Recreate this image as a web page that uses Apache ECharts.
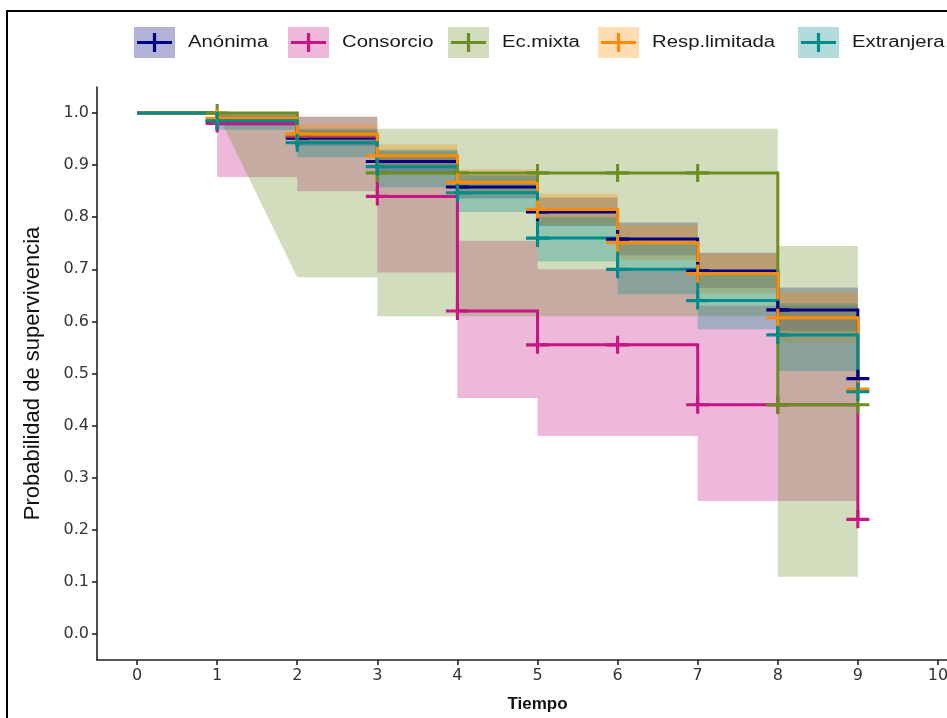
<!DOCTYPE html>
<html>
<head>
<meta charset="utf-8">
<script src="https://cdn.jsdelivr.net/npm/echarts@6/dist/echarts.min.js"></script>
<style>
  html, body { margin: 0; padding: 0; background: #ffffff; overflow: hidden; }
  #chart { width: 1000px; height: 718px; }
</style>
</head>
<body>
<div id="chart"></div>
<script>
// Kaplan-Meier survival by company type, with 95% confidence bands

const groups = ['Anónima', 'Consorcio', 'Ec.mixta', 'Resp.limitada', 'Extranjera'];
const lineColors = ['#000080', '#C71585', '#6B8E23', '#FF8C00', '#008B8B'];

const times = [0, 1, 2, 3, 4, 5, 6, 7, 8, 9];
const xTicks = [0, 1, 2, 3, 4, 5, 6, 7, 8, 9, 10];
const yTicks = [0, 0.1, 0.2, 0.3, 0.4, 0.5, 0.6, 0.7, 0.8, 0.9, 1.0];

// survival estimate from each time onwards
const survAnonima    = [1, 0.985, 0.952, 0.907, 0.858, 0.810, 0.758, 0.697, 0.622, 0.490];
const survConsorcio  = [1, 0.980, 0.955, 0.840, 0.620, 0.555, 0.555, 0.440, 0.440, 0.220];
const survEcMixta    = [1, 1.000, 0.958, 0.885, 0.885, 0.885, 0.885, 0.885, 0.440, 0.440];
const survResp       = [1, 0.990, 0.960, 0.918, 0.867, 0.815, 0.751, 0.692, 0.607, 0.470];
const survExtranjera = [1, 0.985, 0.943, 0.897, 0.847, 0.760, 0.700, 0.640, 0.574, 0.465];

// confidence limits on each interval [t, t+1); null = limit not available there
const lowerAnonima    = [1, 0.975, 0.937, 0.887, 0.836, 0.783, 0.727, 0.664, 0.582];
const upperAnonima    = [1, 0.995, 0.967, 0.927, 0.881, 0.838, 0.790, 0.732, 0.665];
const lowerConsorcio  = [1, 0.877, 0.850, 0.694, 0.453, 0.380, 0.380, 0.255, 0.255];
const upperConsorcio  = [1, 1.000, 0.993, 0.920, 0.755, 0.700, 0.700, 0.630, 0.630];
const lowerEcMixta    = [1, null, 0.685, 0.610, 0.610, 0.610, 0.610, 0.610, 0.110];
const upperEcMixta    = [1, 1.000, 0.993, 0.970, 0.970, 0.970, 0.970, 0.970, 0.745];
const lowerResp       = [1, 0.978, 0.942, 0.895, 0.842, 0.785, 0.718, 0.655, 0.560];
const upperResp       = [1, 1.000, 0.978, 0.940, 0.892, 0.845, 0.785, 0.730, 0.655];
const lowerExtranjera = [1, 0.968, 0.915, 0.857, 0.810, 0.715, 0.652, 0.585, 0.505];
const upperExtranjera = [1, 1.000, 0.970, 0.930, 0.880, 0.800, 0.750, 0.690, 0.635];

// censoring times
const censorAnonima    = [1, 2, 3, 4, 5, 6, 7, 8, 9];
const censorConsorcio  = [1, 2, 3, 4, 5, 6, 7, 8, 9];
const censorEcMixta    = [1, 2, 3, 4, 5, 6, 7, 8, 9];
const censorResp       = [1, 2, 3, 4, 5, 6, 7, 8, 9];
const censorExtranjera = [1, 2, 3, 4, 5, 6, 7, 8, 9];

const survList   = [survAnonima, survConsorcio, survEcMixta, survResp, survExtranjera];
const lowerList  = [lowerAnonima, lowerConsorcio, lowerEcMixta, lowerResp, lowerExtranjera];
const upperList  = [upperAnonima, upperConsorcio, upperEcMixta, upperResp, upperExtranjera];
const censorList = [censorAnonima, censorConsorcio, censorEcMixta, censorResp, censorExtranjera];

function alphaColor(hex, a) {
  const r = parseInt(hex.slice(1, 3), 16);
  const g = parseInt(hex.slice(3, 5), 16);
  const b = parseInt(hex.slice(5, 7), 16);
  return 'rgba(' + r + ',' + g + ',' + b + ',' + a + ')';
}

const crossPath = 'path://M-12,-1.6 L12,-1.6 L12,1.6 L-12,1.6 Z M-1.6,-9 L1.6,-9 L1.6,9 L-1.6,9 Z';

const series = [];

// confidence ribbons: one stepped polygon per group
groups.forEach(function (name, gi) {
  const lo = lowerList[gi];
  const hi = upperList[gi];
  series.push({
    type: 'custom',
    name: name + ' IC',
    coordinateSystem: 'cartesian2d',
    data: [[0, 0]],
    silent: true,
    z: 1,
    renderItem: function (params, api) {
      const pts = [];
      for (let i = 0; i < hi.length; i++) {
        pts.push(api.coord([times[i], hi[i]]));
        pts.push(api.coord([times[i + 1], hi[i]]));
      }
      for (let i = lo.length - 1; i >= 0; i--) {
        if (lo[i] === null) continue;
        pts.push(api.coord([times[i + 1], lo[i]]));
        pts.push(api.coord([times[i], lo[i]]));
      }
      return {
        type: 'polygon',
        shape: { points: pts },
        style: { fill: alphaColor(lineColors[gi], 0.3), stroke: null }
      };
    }
  });
});

// survival step curves
groups.forEach(function (name, gi) {
  series.push({
    type: 'line',
    name: name,
    step: 'end',
    showSymbol: false,
    silent: true,
    z: 2,
    lineStyle: { color: lineColors[gi], width: 3, join: 'miter' },
    data: times.map(function (t, i) { return [t, survList[gi][i]]; })
  });
});

// censoring marks
groups.forEach(function (name, gi) {
  series.push({
    type: 'scatter',
    name: name + ' censura',
    symbol: crossPath,
    symbolSize: [23, 18],
    silent: true,
    z: 3,
    itemStyle: { color: lineColors[gi], opacity: 1 },
    data: censorList[gi].map(function (t) { return [t, survList[gi][times.indexOf(t)]]; })
  });
});

// legend drawn as keys with a shaded square and a cross
const legendKeyX = [134, 288, 448, 598, 798];
const legendGraphics = [];
groups.forEach(function (name, gi) {
  const x0 = legendKeyX[gi];
  legendGraphics.push({
    type: 'rect',
    shape: { x: x0, y: 27, width: 41, height: 31 },
    style: { fill: alphaColor(lineColors[gi], 0.3) }
  });
  legendGraphics.push({
    type: 'line',
    shape: { x1: x0 + 3, y1: 42.5, x2: x0 + 38, y2: 42.5 },
    style: { stroke: lineColors[gi], lineWidth: 3.2 }
  });
  legendGraphics.push({
    type: 'line',
    shape: { x1: x0 + 20.5, y1: 33, x2: x0 + 20.5, y2: 52 },
    style: { stroke: lineColors[gi], lineWidth: 3.2 }
  });
  legendGraphics.push({
    type: 'text',
    x: x0 + 54,
    y: 43,
    scaleX: 1.27,
    style: {
      text: name,
      fill: '#1a1a1a',
      font: '16px "Liberation Sans", Arial, sans-serif',
      textVerticalAlign: 'middle',
      textAlign: 'left'
    }
  });
});

const option = {
  backgroundColor: '#ffffff',
  animation: false,
  grid: { left: 97, top: 87, width: 881, height: 575, containLabel: false },
  xAxis: {
    type: 'value',
    min: -0.5,
    max: 10.5,
    name: 'Tiempo',
    nameLocation: 'middle',
    nameGap: 36,
    nameTextStyle: { color: '#111', fontSize: 17, fontWeight: 'bold', fontFamily: '"Liberation Sans", Arial, sans-serif' },
    axisLine: { onZero: false, lineStyle: { color: '#222', width: 1.6 } },
    axisTick: { customValues: xTicks, length: 5, lineStyle: { color: '#222', width: 1.6 } },
    axisLabel: { customValues: xTicks, color: '#333', fontSize: 16, margin: 8, fontFamily: '"DejaVu Sans", sans-serif' },
    splitLine: { show: false }
  },
  yAxis: {
    type: 'value',
    min: -0.05,
    max: 1.05,
    name: 'Probabilidad de supervivencia',
    nameLocation: 'middle',
    nameGap: 53,
    nameRotate: 90,
    nameTextStyle: { color: '#111', fontSize: 22, fontFamily: '"Liberation Sans Narrow", "Liberation Sans", Arial, sans-serif' },
    axisLine: { onZero: false, lineStyle: { color: '#222', width: 1.6 } },
    axisTick: { customValues: yTicks, length: 5, lineStyle: { color: '#222', width: 1.6 } },
    axisLabel: {
      customValues: yTicks,
      color: '#333',
      fontSize: 16,
      margin: 8,
      fontFamily: '"DejaVu Sans", sans-serif',
      formatter: function (v) { return v.toFixed(1); }
    },
    splitLine: { show: false }
  },
  graphic: [
    {
      type: 'rect',
      shape: { x: 7, y: 11, width: 1050, height: 800 },
      style: { fill: 'none', stroke: '#000', lineWidth: 2 },
      silent: true
    }
  ].concat(legendGraphics),
  series: series
};

const chart = echarts.init(document.getElementById('chart'));
chart.setOption(option);
</script>
</body>
</html>
